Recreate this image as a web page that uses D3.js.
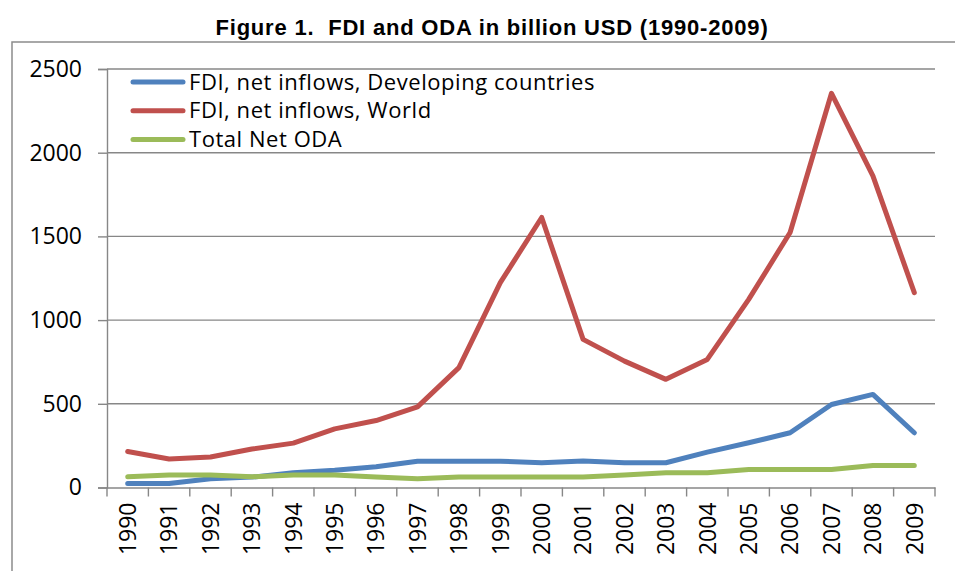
<!DOCTYPE html>
<html>
<head>
<meta charset="utf-8">
<script src="https://cdn.jsdelivr.net/npm/d3@7"></script>
<style>
  body { margin: 0; background: #fff; }
  svg { display: block; }
  text { fill: #000; }
</style>
</head>
<body>
<svg id="chart" width="955" height="571"></svg>
<script>
const years = ['1990', '1991', '1992', '1993', '1994', '1995', '1996', '1997', '1998', '1999',
  '2000', '2001', '2002', '2003', '2004', '2005', '2006', '2007', '2008', '2009'];
const fdiDeveloping = [24, 24, 52, 62, 88, 103, 124, 157, 157, 157, 148, 158, 148, 148, 211, 267, 327, 496, 556, 327];
const fdiWorld = [215, 170, 182, 230, 265, 350, 400, 482, 716, 1224, 1613, 885, 755, 646, 765, 1124, 1523, 2355, 1862, 1164];
const totalOda = [64, 74, 74, 64, 74, 74, 62, 52, 62, 62, 62, 62, 74, 88, 88, 108, 108, 108, 132, 132];
const yTicks = [0, 500, 1000, 1500, 2000, 2500];

const series = [
  { name: 'FDI, net inflows, Developing countries', values: fdiDeveloping, color: '#4F81BD' },
  { name: 'FDI, net inflows, World', values: fdiWorld, color: '#C0504D' },
  { name: 'Total Net ODA', values: totalOda, color: '#9BBB59' }
];

const svg = d3.select('#chart');
const gridColor = '#878787';
const font = "'Open Sans', sans-serif";

// outer chart frame
svg.append('rect')
  .attr('x', 12).attr('y', 42)
  .attr('width', 960).attr('height', 560)
  .attr('fill', 'none')
  .attr('stroke', '#8c8c8c')
  .attr('stroke-width', 1.5);

svg.append('text')
  .attr('x', 492).attr('y', 35)
  .attr('text-anchor', 'middle')
  .style('font-family', "'Liberation Sans', Arial, sans-serif")
  .style('font-weight', 'bold')
  .style('font-size', '22px')
  .style('letter-spacing', '0.8px')
  .style('white-space', 'pre')
  .text('Figure 1.  FDI and ODA in billion USD (1990-2009)');

const x = d3.scaleBand().domain(years).range([107, 935]);
const y = d3.scaleLinear().domain([0, 2500]).range([487.5, 69]);

// gridlines
svg.append('g')
  .selectAll('line')
  .data(yTicks.filter(t => t > 0))
  .enter().append('line')
  .attr('x1', 107).attr('x2', 935)
  .attr('y1', t => y(t)).attr('y2', t => y(t))
  .attr('stroke', gridColor)
  .attr('stroke-width', 1.4);

// y axis
const yAxis = svg.append('g')
  .attr('transform', 'translate(107,0)')
  .call(d3.axisLeft(y).tickValues(yTicks).tickFormat(d3.format('d')).tickSize(9).tickPadding(16));
yAxis.selectAll('line, path').attr('stroke', gridColor).attr('stroke-width', 1.4);
yAxis.selectAll('text')
  .style('font-family', font)
  .style('font-size', '23px')
  .attr('fill', '#000');

// x axis
const xAxis = svg.append('g')
  .attr('transform', `translate(0,${y(0)})`)
  .call(d3.axisBottom(x).tickSize(0).tickPadding(0));
xAxis.select('path').attr('stroke', gridColor).attr('stroke-width', 1.4);
xAxis.selectAll('text')
  .style('font-family', font)
  .style('font-size', '23px')
  .attr('fill', '#000')
  .attr('text-anchor', 'end')
  .attr('transform', 'rotate(-90)')
  .attr('x', -15)
  .attr('y', 0)
  .attr('dy', '0.36em');

// category boundary ticks
svg.append('g')
  .selectAll('line')
  .data(years.map(d => x(d)).concat([x.range()[1]]))
  .enter().append('line')
  .attr('x1', d => d).attr('x2', d => d)
  .attr('y1', y(0)).attr('y2', y(0) + 9)
  .attr('stroke', gridColor)
  .attr('stroke-width', 1.4);

const line = d3.line()
  .x((d, i) => x(years[i]) + x.bandwidth() / 2)
  .y(d => y(d));

svg.append('g')
  .selectAll('path')
  .data(series)
  .enter().append('path')
  .attr('d', s => line(s.values))
  .attr('fill', 'none')
  .attr('stroke', s => s.color)
  .attr('stroke-width', 5)
  .attr('stroke-linejoin', 'round')
  .attr('stroke-linecap', 'round');

// legend
const legend = svg.append('g')
  .selectAll('g')
  .data(series)
  .enter().append('g')
  .attr('transform', (s, i) => `translate(131,${82 + i * 28.7})`);

legend.append('line')
  .attr('x1', 2).attr('x2', 52)
  .attr('stroke', s => s.color)
  .attr('stroke-width', 5)
  .attr('stroke-linecap', 'round');

legend.append('text')
  .attr('x', 58)
  .attr('dy', '0.35em')
  .style('font-family', font)
  .style('font-size', '22px')
  .style('letter-spacing', '0.55px')
  .text(s => s.name);
</script>
</body>
</html>
